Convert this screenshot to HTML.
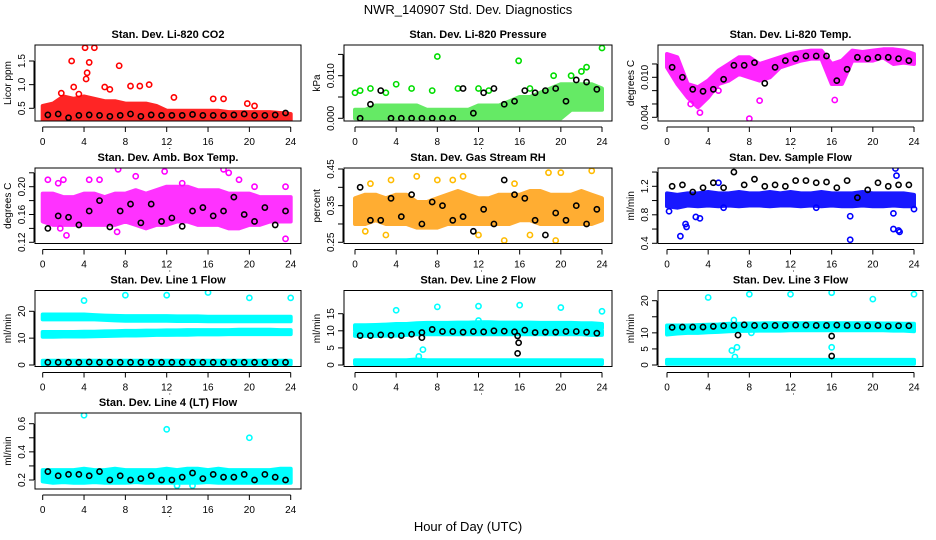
<!DOCTYPE html>
<html><head><meta charset="utf-8">
<style>
body{margin:0;background:#fff;}
svg{display:block;font-family:"Liberation Sans",Arial,sans-serif;}
</style></head>
<body>
<svg id="chart" width="936" height="540" viewBox="0 0 936 540" xmlns="http://www.w3.org/2000/svg">
<text x="468" y="14" text-anchor="middle" font-size="13">NWR_140907  Std. Dev. Diagnostics</text>
<text x="468" y="531" text-anchor="middle" font-size="13">Hour of Day (UTC)</text>
</svg>
<script>
// ---- data ----
const hours = [0,1,2,3,4,5,6,7,8,9,10,11,12,13,14,15,16,17,18,19,20,21,22,23,24];
const blkHours = [0.5,1.5,2.5,3.5,4.5,5.5,6.5,7.5,8.5,9.5,10.5,11.5,12.5,13.5,14.5,15.5,16.5,17.5,18.5,19.5,20.5,21.5,22.5,23.5];
const xTicks = [0,4,8,12,16,20,24];

const co2Lo = [0.25,0.25,0.25,0.25,0.25,0.25,0.25,0.25,0.25,0.25,0.25,0.25,0.25,0.25,0.25,0.25,0.25,0.25,0.25,0.25,0.25,0.25,0.25,0.25,0.25];
const co2Hi = [0.55,0.6,0.75,0.7,0.75,0.7,0.65,0.65,0.6,0.6,0.6,0.55,0.45,0.45,0.45,0.45,0.45,0.45,0.42,0.42,0.42,0.42,0.42,0.4,0.38];
const co2OutX = [2.8,4.1,5.0,4.2,4.3,4.5,7.4,10.3,9.4,8.5,12.7,16.5,17.5,19.8,3.0,6.0,1.8,6.5,3.5,20.5];
const co2OutY = [1.5,1.78,1.78,1.12,1.25,1.47,1.4,1.0,0.97,0.97,0.73,0.7,0.7,0.6,0.95,0.95,0.82,0.9,0.8,0.55];
const co2Blk = [0.36,0.38,0.3,0.35,0.36,0.35,0.33,0.35,0.38,0.33,0.36,0.35,0.35,0.35,0.37,0.35,0.35,0.35,0.36,0.38,0.35,0.35,0.36,0.4];

const presLo = [0,0,0,0,0,0,0,0,0,0,0,0,0,0,0,0,0,0,0,0,0,0.002,0.002,0.002,0.002];
const presHi = [0.002,0.002,0.003,0.003,0.003,0.003,0.003,0.002,0.002,0.002,0.002,0.002,0.003,0.003,0.003,0.004,0.005,0.005,0.006,0.007,0.008,0.008,0.008,0.008,0.007];
const presOutX = [8,15.9,24,22.5,22,4,1.5,0,21,19.3,7.5,10,13,5.5,12,17,0.5,3];
const presOutY = [0.0145,0.0135,0.0165,0.012,0.011,0.008,0.007,0.006,0.01,0.01,0.0065,0.007,0.0065,0.007,0.007,0.007,0.0065,0.006];
const presBlk = [0,0.0033,0.0065,0,0,0,0,0,0,0,0.007,0.0012,0.006,0.007,0.0033,0.004,0.0065,0.006,0.0065,0.007,0.004,0.009,0.0085,0.0068];

const tempLo = [0.0115,0.009,0.007,0.0055,0.007,0.009,0.0095,0.0105,0.01,0.0095,0.01,0.0115,0.012,0.0125,0.0128,0.0128,0.009,0.009,0.0125,0.0125,0.0125,0.013,0.012,0.0122,0.012];
const tempHi = [0.0135,0.013,0.009,0.0085,0.0095,0.011,0.012,0.013,0.013,0.012,0.0125,0.013,0.0135,0.0138,0.014,0.014,0.012,0.0125,0.014,0.0138,0.014,0.0142,0.0142,0.014,0.0135];
const tempOutX = [8,3.2,16.3,9,5,2.3];
const tempOutY = [0.0038,0.0047,0.0066,0.0065,0.008,0.006];
const tempBlk = [0.0115,0.01,0.0082,0.0079,0.0082,0.0097,0.0118,0.0118,0.0122,0.0091,0.0115,0.0125,0.0128,0.0132,0.0132,0.0132,0.0095,0.0112,0.013,0.0128,0.013,0.013,0.0128,0.0125];

const ambLo = [0.15,0.145,0.145,0.145,0.145,0.145,0.145,0.145,0.15,0.145,0.14,0.145,0.145,0.15,0.15,0.145,0.145,0.145,0.14,0.14,0.145,0.145,0.15,0.15,0.15];
const ambHi = [0.19,0.19,0.185,0.185,0.19,0.19,0.185,0.19,0.19,0.195,0.19,0.195,0.2,0.2,0.2,0.195,0.195,0.195,0.19,0.19,0.19,0.185,0.185,0.185,0.185];
const ambOutX = [0.5,1.5,2,4.5,5.5,7.3,9,11.8,13.5,17.5,18,19,23.5,23.5,2.3,7.2,1.7,20.5];
const ambOutY = [0.21,0.205,0.21,0.21,0.21,0.225,0.215,0.222,0.205,0.225,0.22,0.21,0.2,0.125,0.13,0.135,0.14,0.2];
const ambBlk = [0.14,0.158,0.156,0.145,0.165,0.18,0.142,0.165,0.175,0.148,0.175,0.15,0.155,0.143,0.165,0.17,0.158,0.165,0.185,0.16,0.15,0.17,0.145,0.165];

const rhLo = [0.3,0.3,0.31,0.3,0.3,0.3,0.29,0.29,0.29,0.3,0.3,0.3,0.3,0.3,0.3,0.3,0.31,0.31,0.3,0.3,0.3,0.3,0.3,0.3,0.31];
const rhHi = [0.37,0.38,0.38,0.37,0.38,0.38,0.36,0.36,0.37,0.38,0.39,0.38,0.37,0.37,0.38,0.38,0.38,0.39,0.39,0.38,0.38,0.38,0.39,0.38,0.37];
const rhOutX = [1.5,3.5,6,8,9.5,15.5,18.8,20,23,12,14.5,19.5,1,3,10.5,17];
const rhOutY = [0.41,0.42,0.43,0.42,0.42,0.41,0.44,0.44,0.445,0.27,0.255,0.255,0.28,0.27,0.43,0.27];
const rhBlk = [0.4,0.31,0.31,0.37,0.32,0.38,0.3,0.36,0.35,0.31,0.32,0.28,0.34,0.3,0.42,0.38,0.37,0.31,0.27,0.33,0.31,0.35,0.3,0.34];

const flowLo = [0.92,0.9,0.93,0.92,0.93,0.92,0.93,0.92,0.93,0.93,0.92,0.93,0.93,0.92,0.93,0.92,0.93,0.92,0.92,0.93,0.92,0.92,0.93,0.92,0.92];
const flowHi = [1.1,1.08,1.1,1.1,1.12,1.1,1.1,1.12,1.1,1.1,1.12,1.1,1.12,1.1,1.1,1.12,1.1,1.1,1.1,1.12,1.1,1.1,1.1,1.1,1.08];
const flowOutX = [0.2,1.3,1.8,1.9,2.8,3.2,17.8,17.8,22,22.5,22.2,22.3,22,5.5,24,5,14.5,22.6];
const flowOutY = [0.85,0.5,0.67,0.63,0.77,0.75,0.78,0.45,0.6,0.58,1.45,1.35,0.82,0.9,0.88,1.25,0.9,0.56];
const flowBlk = [1.2,1.22,1.12,1.18,1.25,1.18,1.4,1.22,1.3,1.2,1.22,1.2,1.28,1.28,1.25,1.26,1.18,1.28,1.04,1.15,1.25,1.2,1.22,1.22];

const l1ALo = [17,17,17,17,17,17,16.8,16.6,16.5,16.5,16.5,16.5,16.5,16.4,16.4,16.4,16.3,16.3,16.3,16.3,16.3,16.3,16.3,16.3,16.3];
const l1AHi = [18.8,18.8,18.8,18.8,18.8,18.6,18.4,18.3,18.2,18.2,18.2,18.2,18.2,18.1,18.1,18.1,18,18,18,18,18,18,18,18,18];
const l1BLo = [10.5,10.5,10.6,10.6,10.6,10.7,10.8,10.9,11,11,11.1,11.2,11.2,11.3,11.3,11.4,11.4,11.4,11.5,11.5,11.5,11.5,11.5,11.5,11.5];
const l1BHi = [12.3,12.3,12.3,12.3,12.4,12.4,12.5,12.6,12.7,12.7,12.8,12.8,12.9,12.9,13,13,13,13,13,13.1,13.1,13.1,13.1,13,13];
const l1CLo = [0.3,0.3,0.3,0.3,0.3,0.3,0.3,0.3,0.3,0.3,0.3,0.3,0.3,0.3,0.3,0.3,0.3,0.3,0.3,0.3,0.3,0.3,0.3,0.3,0.3];
const l1CHi = [1.6,1.6,1.6,1.6,1.6,1.6,1.6,1.6,1.6,1.6,1.6,1.6,1.6,1.6,1.6,1.6,1.6,1.6,1.6,1.6,1.6,1.6,1.6,1.6,1.6];
const l1OutX = [4,8,12,16,20,24];
const l1OutY = [24,26,26,27,25,25];
const l1Blk = [1,1,1,1,1.1,1,1,1,1,1,1,1,1,1,1,1,1,1,1,1,1,1,1,1];

const l2ALo = [10.2,10.2,10.3,10.4,10.6,10.8,11,11,11,11,11,11,11.1,11.1,11,11,11,11,11,11,11,11,11,11,10.8];
const l2AHi = [11.6,11.6,11.7,11.8,12,12,12.2,12.3,12.3,12.3,12.4,12.4,12.5,12.5,12.4,12.4,12.4,12.4,12.3,12.3,12.3,12.3,12.2,12.2,12];
const l2BLo = [8.5,8.5,8.5,8.6,8.6,8.8,9,9,9,9,9,9,9,9,9,9,9,9,9,9,9,9,9,8.8,8.8];
const l2BHi = [9.5,9.5,9.6,9.6,9.8,10,10.2,10.2,10.2,10.2,10.2,10.2,10.2,10.2,10.2,10.2,10.2,10.2,10.2,10.2,10.2,10.2,10.2,10,10];
const l2CLo = [0.3,0.3,0.3,0.3,0.3,0.3,0.3,0.3,0.3,0.3,0.3,0.3,0.3,0.3,0.3,0.3,0.3,0.3,0.3,0.3,0.3,0.3,0.3,0.3,0.3];
const l2CHi = [1.4,1.4,1.4,1.4,1.4,1.4,1.6,1.4,1.4,1.4,1.4,1.4,1.4,1.4,1.4,1.4,1.4,1.4,1.4,1.4,1.4,1.4,1.4,1.4,1.4];
const l2OutX = [4,8,12,16,20,24,6.6,6.2,12];
const l2OutY = [16,17,17.2,17.5,16.8,15.7,4.5,2.5,13];
const l2Blk = [8.6,8.6,8.8,8.7,8.6,9,9.5,10.4,9.8,9.8,9.6,9.8,9.7,10,9.9,9.7,10.2,9.5,9.6,9.6,9.8,9.8,9.6,9.3];
const l2BlkOutX = [6.5,15.8,15.9,15.8];
const l2BlkOutY = [8,8.5,6.5,3.4];

const l3ALo = [9.5,9.8,10,10,10.2,10.3,10.5,10.6,10.6,10.7,10.7,10.7,10.8,10.8,10.8,10.8,10.8,10.8,10.8,10.8,10.8,10.8,10.7,10.7,10.5];
const l3AHi = [12.3,12.3,12.3,12.4,12.5,12.6,12.8,12.8,12.9,12.9,13,13,13,13,13,13,13,13,13,13,13,12.9,12.9,12.8,12.8];
const l3CLo = [0.4,0.4,0.4,0.4,0.4,0.4,0.4,0.4,0.4,0.4,0.4,0.4,0.4,0.4,0.4,0.4,0.4,0.4,0.4,0.4,0.4,0.4,0.4,0.4,0.4];
const l3CHi = [1.6,1.6,1.6,1.6,1.6,1.6,1.6,1.6,1.6,1.6,1.6,1.6,1.6,1.6,1.6,1.6,1.6,1.6,1.6,1.6,1.6,1.6,1.6,1.6,1.6];
const l3OutX = [4,8,12,16,20,24,6.5,6.8,6.3,6.6,16,8.2];
const l3OutY = [21,22,22,22.5,20.5,22,14,5.5,4.5,2.5,5.5,10];
const l3Blk = [11.7,11.8,11.8,11.8,12,12.2,12.3,12.5,12.3,12.2,12.3,12.3,12.4,12.4,12.3,12.3,12.4,12.3,12.2,12.2,12.3,12.1,12.2,12.2];
const l3BlkOutX = [6.9,16,16];
const l3BlkOutY = [9.3,9,2.8];

const l4Lo = [0.19,0.18,0.185,0.18,0.18,0.185,0.18,0.18,0.18,0.185,0.18,0.18,0.18,0.18,0.18,0.18,0.185,0.18,0.18,0.18,0.18,0.18,0.18,0.18,0.18];
const l4Hi = [0.27,0.27,0.27,0.27,0.28,0.27,0.27,0.28,0.27,0.27,0.27,0.27,0.28,0.27,0.28,0.28,0.27,0.28,0.27,0.27,0.27,0.27,0.27,0.28,0.28];
const l4OutX = [4,12,20,13,14.5];
const l4OutY = [0.66,0.56,0.5,0.16,0.16];
const l4Blk = [0.26,0.23,0.24,0.24,0.23,0.26,0.2,0.23,0.2,0.21,0.23,0.2,0.2,0.22,0.25,0.21,0.24,0.22,0.22,0.24,0.2,0.24,0.22,0.2];

// ---- layout / styles (not data) ----
const NS = "http://www.w3.org/2000/svg";
const svg = document.getElementById('chart');
const cols = [{l:35,r:301,x0:42.7,x24:290.7},{l:344,r:612,x0:355,x24:602},{l:658,r:923,x0:667,x24:914}];
const rows = [{t:45,b:121},{t:168,b:243.5},{t:290.5,b:366.5},{t:413,b:489}];

const panels = [
 {name:'co2',title:'Stan. Dev. Li-820 CO2',ylab:'Licor ppm',c:0,r:0,v0:0.5,p0:108.3,v1:1.5,p1:61,ticks:[0.5,1.0,1.5],labels:['0.5','1.0','1.5'],color:'#ff0000',op:0.85,
  bands:[[co2Lo,co2Hi]],out:[[co2OutX,co2OutY]],blk:co2Blk,blkOut:null},
 {name:'pressure',title:'Stan. Dev. Li-820 Pressure',ylab:'kPa',c:1,r:0,v0:0,p0:118.3,v1:0.01,p1:75.7,ticks:[0,0.005,0.01,0.015],labels:['0.000','','0.010',''],color:'#00dd00',op:0.6,
  bands:[[presLo,presHi]],out:[[presOutX,presOutY]],blk:presBlk,blkOut:null},
 {name:'temp',title:'Stan. Dev. Li-820 Temp.',ylab:'degrees C',c:2,r:0,v0:0.004,p0:117.3,v1:0.01,p1:77.3,ticks:[0.004,0.006,0.008,0.01,0.012],labels:['0.004','','','0.010',''],color:'#ff00ff',op:0.85,
  bands:[[tempLo,tempHi]],out:[[tempOutX,tempOutY]],blk:tempBlk,blkOut:null},
 {name:'amb-box-temp',title:'Stan. Dev. Amb. Box Temp.',ylab:'degrees C',c:0,r:1,v0:0.12,p0:242.3,v1:0.2,p1:186.7,ticks:[0.12,0.14,0.16,0.18,0.2,0.22],labels:['0.12','','0.16','','0.20',''],color:'#ff00ff',op:0.8,
  bands:[[ambLo,ambHi]],out:[[ambOutX,ambOutY]],blk:ambBlk,blkOut:null},
 {name:'gas-rh',title:'Stan. Dev. Gas Stream RH',ylab:'percent',c:1,r:1,v0:0.25,p0:242.3,v1:0.45,p1:169,ticks:[0.25,0.3,0.35,0.4,0.45],labels:['0.25','','0.35','','0.45'],color:'#ff9900',op:0.8,
  bands:[[rhLo,rhHi]],out:[[rhOutX,rhOutY]],blk:rhBlk,blkOut:null,outColor:'#ffbb00'},
 {name:'sample-flow',title:'Stan. Dev. Sample Flow',ylab:'ml/min',c:2,r:1,v0:0.4,p0:243.3,v1:1.2,p1:186.3,ticks:[0.4,0.6,0.8,1.0,1.2,1.4],labels:['0.4','','0.8','','1.2',''],color:'#0000ff',op:0.9,
  bands:[[flowLo,flowHi]],out:[[flowOutX,flowOutY]],blk:flowBlk,blkOut:null},
 {name:'line1-flow',title:'Stan. Dev. Line 1 Flow',ylab:'ml/min',c:0,r:2,v0:0,p0:365,v1:20,p1:311.3,ticks:[0,10,20],labels:['0','10','20'],color:'#00ffff',op:1,
  bands:[[l1ALo,l1AHi],[l1BLo,l1BHi],[l1CLo,l1CHi]],out:[[l1OutX,l1OutY]],blk:l1Blk,blkOut:null},
 {name:'line2-flow',title:'Stan. Dev. Line 2 Flow',ylab:'ml/min',c:1,r:2,v0:0,p0:365,v1:15,p1:313.7,ticks:[0,5,10,15],labels:['0','5','10','15'],color:'#00ffff',op:1,
  bands:[[l2ALo,l2AHi],[l2BLo,l2BHi],[l2CLo,l2CHi]],out:[[l2OutX,l2OutY]],blk:l2Blk,blkOut:[l2BlkOutX,l2BlkOutY]},
 {name:'line3-flow',title:'Stan. Dev. Line 3 Flow',ylab:'ml/min',c:2,r:2,v0:0,p0:365,v1:20,p1:300.7,ticks:[0,5,10,15,20],labels:['0','5','10','','20'],color:'#00ffff',op:1,
  bands:[[l3ALo,l3AHi],[l3CLo,l3CHi]],out:[[l3OutX,l3OutY]],blk:l3Blk,blkOut:[l3BlkOutX,l3BlkOutY]},
 {name:'line4-flow',title:'Stan. Dev. Line 4 (LT) Flow',ylab:'ml/min',c:0,r:3,v0:0.2,p0:480,v1:0.6,p1:423.7,ticks:[0.2,0.3,0.4,0.5,0.6],labels:['0.2','','0.4','','0.6'],color:'#00ffff',op:1,
  bands:[[l4Lo,l4Hi]],out:[[l4OutX,l4OutY]],blk:l4Blk,blkOut:null}
];

function mk(tag, attrs, parent){
  const e = document.createElementNS(NS, tag);
  for (const k in attrs) e.setAttribute(k, attrs[k]);
  (parent||svg).appendChild(e);
  return e;
}

panels.forEach(p => {
  const col = cols[p.c], row = rows[p.r];
  const X = h => col.x0 + (col.x24 - col.x0) * h / 24;
  const Y = v => p.p0 + (p.p1 - p.p0) * (v - p.v0) / (p.v1 - p.v0);
  const g = mk('g', {});
  
  
  const clipId = 'clip-' + p.name;
  const cp = mk('clipPath', {id: clipId}, g);
  mk('rect', {x: col.l, y: row.t, width: col.r - col.l, height: row.b - row.t}, cp);
  const plot = mk('g', {'clip-path': 'url(#' + clipId + ')'}, g);

  p.bands.forEach((b, bi) => {
    const lo = b[0], hi = b[1];
    let d = '';
    hours.forEach((h, i) => { d += (i ? 'L' : 'M') + X(h).toFixed(1) + ',' + Y(hi[i]).toFixed(1); });
    for (let i = hours.length - 1; i >= 0; i--) d += 'L' + X(hours[i]).toFixed(1) + ',' + Y(lo[i]).toFixed(1);
    d += 'Z';
    const path = mk('path', {d: d, fill: p.color, stroke: p.color, 'stroke-width': 4, 'stroke-linejoin': 'round', opacity: p.op}, plot);
    
    
  });
  p.out.forEach(o => {
    o[0].forEach((h, i) => {
      const c = mk('circle', {cx: X(h), cy: Y(o[1][i]), r: 2.6, fill: 'none', stroke: p.outColor || p.color, 'stroke-width': 1.6}, plot);
      
      
    });
  });
  p.blk.forEach((v, i) => {
    const c = mk('circle', {cx: X(blkHours[i]), cy: Y(v), r: 2.6, fill: 'none', stroke: '#000', 'stroke-width': 1.6}, plot);
    
    
  });
  if (p.blkOut) p.blkOut[0].forEach((h, i) => {
    const c = mk('circle', {cx: X(h), cy: Y(p.blkOut[1][i]), r: 2.6, fill: 'none', stroke: '#000', 'stroke-width': 1.6}, plot);
    
    
  });

  const box = mk('rect', {x: col.l, y: row.t, width: col.r - col.l, height: row.b - row.t, fill: 'none', stroke: '#000', 'stroke-width': 1}, g);
  
  
  const t = mk('text', {x: (col.l + col.r) / 2, y: row.t - 7, 'text-anchor': 'middle', 'font-size': 11, 'font-weight': 'bold'}, g);
  t.textContent = p.title;
  
  
  const xa = mk('g', {}, g);
  
  
  const xb = row.b + 6;
  mk('line', {x1: X(0), x2: X(24), y1: xb, y2: xb, stroke: '#000'}, xa);
  xTicks.forEach(h => {
    mk('line', {x1: X(h), x2: X(h), y1: xb, y2: xb + 5, stroke: '#000'}, xa);
    const tl = mk('text', {x: X(h), y: xb + 18, 'text-anchor': 'middle', 'font-size': 10}, xa);
    tl.textContent = h;
  });
  const dot = mk('text', {x: X(12) + 3, y: xb + 22, 'text-anchor': 'middle', 'font-size': 9}, xa);
  dot.textContent = '.';
  const ya = mk('g', {}, g);
  
  
  const yl = col.l - 1;
  const ty = p.ticks.map(Y);
  mk('line', {x1: yl, x2: yl, y1: Math.min(...ty), y2: Math.max(...ty), stroke: '#000'}, ya);
  p.ticks.forEach((v, i) => {
    const yy = Y(v);
    if (yy < row.t - 3 || yy > row.b + 3) return;
    mk('line', {x1: yl - 5, x2: yl, y1: yy, y2: yy, stroke: '#000'}, ya);
    if (p.labels[i]) {
      const lt = mk('text', {x: yl - 9, y: yy, 'text-anchor': 'middle', 'font-size': 10, transform: 'rotate(-90 ' + (yl - 9) + ' ' + yy + ')'}, ya);
      lt.textContent = p.labels[i];
    }
  });
  const ym = (row.t + row.b) / 2, yx = col.l - 24;
  const ylab = mk('text', {x: yx, y: ym, 'text-anchor': 'middle', 'font-size': 10, transform: 'rotate(-90 ' + yx + ' ' + ym + ')'}, g);
  ylab.textContent = p.ylab;
  
  
});
</script>
</body></html>
